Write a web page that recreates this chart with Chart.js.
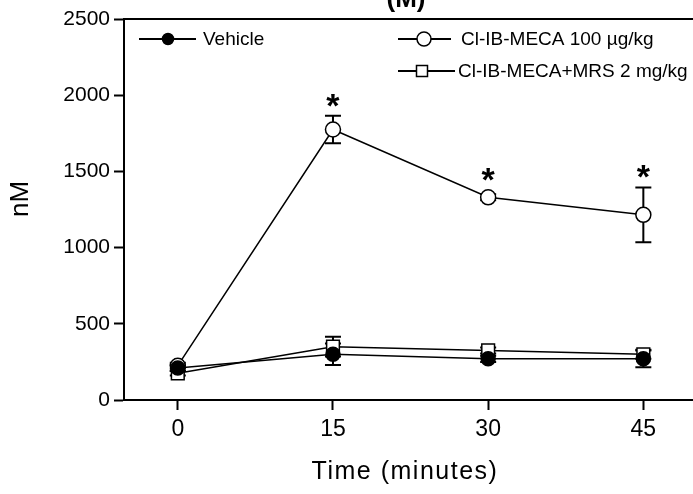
<!DOCTYPE html>
<html>
<head>
<meta charset="utf-8">
<script src="https://cdn.jsdelivr.net/npm/chart.js@4.4.1/dist/chart.umd.min.js"></script>
<style>
  html, body { margin: 0; background: #fff; overflow: hidden; }
  #wrap { width: 693px; height: 494px; position: relative; }
  canvas { display: block; }
</style>
</head>
<body>
<div id="wrap"><canvas id="js--chart--a"></canvas></div>
<script>
const times = [0, 15, 30, 45];
const xTicks = [0, 15, 30, 45];
const yTicks = [0, 500, 1000, 1500, 2000, 2500];
const seriesLabels = ['Vehicle', 'Cl-IB-MECA 100 µg/kg', 'Cl-IB-MECA+MRS 2 mg/kg'];

const vehicle = [210, 300, 270, 270];
const vehicleErr = [20, 70, 20, 55];
const meca = [225, 1775, 1330, 1215];
const mecaErr = [20, 90, 20, 180];
const mecaMrs = [175, 350, 325, 300];
const mecaMrsErr = [15, 65, 20, 30];
const mecaStars = ['', '*', '*', '*'];

const FONT = '"Liberation Sans", Arial, sans-serif';

function toPoints(values) {
  return values.map((v, i) => ({ x: times[i], y: v }));
}

// legend layout, relative to the chart area (left, top)
const legendSlots = [
  { lineFrom: 15, lineTo: 72, marker: 44, text: 79, row: 20, size: 5.5 },
  { lineFrom: 274, lineTo: 327, marker: 300, text: 337, row: 20, size: 7 },
  { lineFrom: 274, lineTo: 331, marker: 298, text: 334, row: 52, size: 5.5 }
];

function drawMarker(ctx, style, x, y, r, fill) {
  ctx.beginPath();
  if (style === 'rect') {
    ctx.rect(x - r, y - r, 2 * r, 2 * r);
  } else {
    ctx.arc(x, y, r, 0, Math.PI * 2);
  }
  ctx.fillStyle = fill;
  ctx.fill();
  ctx.stroke();
}

const extras = {
  id: 'extras',
  beforeDatasetsDraw(chart) {
    // error bars go under the markers
    const { ctx, scales: { x, y } } = chart;
    ctx.save();
    ctx.strokeStyle = '#000';
    ctx.lineWidth = 2;
    chart.data.datasets.forEach(ds => {
      ds.errors.forEach((e, i) => {
        if (!e) return;
        const px = x.getPixelForValue(times[i]);
        const top = y.getPixelForValue(ds.values[i] + e);
        const bot = y.getPixelForValue(ds.values[i] - e);
        ctx.beginPath();
        ctx.moveTo(px, top); ctx.lineTo(px, bot);
        ctx.moveTo(px - 8, top); ctx.lineTo(px + 8, top);
        ctx.moveTo(px - 8, bot); ctx.lineTo(px + 8, bot);
        ctx.stroke();
      });
    });
    ctx.restore();
  },
  afterDraw(chart) {
    const { ctx, chartArea, scales: { x, y } } = chart;
    ctx.save();

    // top frame line
    ctx.strokeStyle = '#000';
    ctx.lineWidth = 2;
    ctx.beginPath();
    ctx.moveTo(chartArea.left, chartArea.top);
    ctx.lineTo(chartArea.right, chartArea.top);
    ctx.stroke();

    // legend
    ctx.font = '19px ' + FONT;
    ctx.textBaseline = 'middle';
    ctx.textAlign = 'left';
    chart.data.datasets.forEach((ds, i) => {
      const slot = legendSlots[i];
      const ly = chartArea.top + slot.row;
      ctx.strokeStyle = '#000';
      ctx.lineWidth = 2;
      ctx.beginPath();
      ctx.moveTo(chartArea.left + slot.lineFrom, ly);
      ctx.lineTo(chartArea.left + slot.lineTo, ly);
      ctx.stroke();
      ctx.lineWidth = 1.5;
      drawMarker(ctx, ds.pointStyle, chartArea.left + slot.marker, ly, slot.size, ds.pointBackgroundColor);
      ctx.fillStyle = '#000';
      ctx.fillText(ds.label, chartArea.left + slot.text, ly + 1);
    });

    // significance stars above the Cl-IB-MECA series
    ctx.font = 'bold 34px ' + FONT;
    ctx.textAlign = 'center';
    ctx.textBaseline = 'alphabetic';
    mecaStars.forEach((s, i) => {
      if (!s) return;
      const px = x.getPixelForValue(times[i]);
      const top = Math.min(y.getPixelForValue(meca[i] + mecaErr[i]), y.getPixelForValue(meca[i]) - 7.5);
      ctx.fillText(s, px, top + 1);
    });

    // axis titles
    ctx.fillStyle = '#000';
    ctx.font = '25px ' + FONT;
    ctx.letterSpacing = '1.5px';
    ctx.textAlign = 'center';
    ctx.fillText('Time (minutes)', 405, 479);

    ctx.save();
    ctx.translate(28, 199);
    ctx.rotate(-Math.PI / 2);
    ctx.font = '26px ' + FONT;
    ctx.letterSpacing = '0px';
    ctx.textBaseline = 'alphabetic';
    ctx.fillText('nM', 0, 0);
    ctx.restore();

    // panel label, cut off by the top edge
    ctx.font = 'bold 26px ' + FONT;
    ctx.letterSpacing = '0px';
    ctx.fillText('(M)', 406, 7);

    ctx.restore();
  }
};

const ctx = document.getElementById('js--chart--a');

new Chart(ctx, {
  type: 'line',
  data: {
    datasets: [
      {
        label: seriesLabels[0],
        data: toPoints(vehicle),
        values: vehicle,
        errors: vehicleErr,
        borderColor: '#000',
        borderWidth: 1.5,
        pointStyle: 'circle',
        pointRadius: 7,
        pointBorderWidth: 1.5,
        pointBorderColor: '#000',
        pointBackgroundColor: '#000',
        order: 0
      },
      {
        label: seriesLabels[1],
        data: toPoints(meca),
        values: meca,
        errors: mecaErr,
        borderColor: '#000',
        borderWidth: 1.5,
        pointStyle: 'circle',
        pointRadius: 7.5,
        pointBorderWidth: 1.5,
        pointBorderColor: '#000',
        pointBackgroundColor: '#fff',
        order: 2
      },
      {
        label: seriesLabels[2],
        data: toPoints(mecaMrs),
        values: mecaMrs,
        errors: mecaMrsErr,
        borderColor: '#000',
        borderWidth: 1.5,
        pointStyle: 'rect',
        pointRadius: 9,
        pointBorderWidth: 1.5,
        pointBorderColor: '#000',
        pointBackgroundColor: '#fff',
        order: 1
      }
    ]
  },
  options: {
    responsive: true,
    maintainAspectRatio: false,
    animation: false,
    layout: { autoPadding: false, padding: { top: 19, right: 0, bottom: 0, left: 0 } },
    plugins: {
      legend: { display: false },
      tooltip: { enabled: false }
    },
    scales: {
      x: {
        type: 'linear',
        min: -5.2,
        max: 49.8,
        afterBuildTicks: scale => { scale.ticks = xTicks.map(v => ({ value: v })); },
        afterFit: scale => { scale.height = 94; },
        grid: { drawOnChartArea: false, tickLength: 10, tickWidth: 2, tickColor: '#000' },
        border: { color: '#000', width: 2 },
        ticks: { color: '#000', font: { family: FONT, size: 23 }, padding: 6, autoSkip: false, maxRotation: 0 }
      },
      y: {
        min: 0,
        max: 2500,
        afterBuildTicks: scale => { scale.ticks = yTicks.map(v => ({ value: v })); },
        afterFit: scale => { scale.width = 124; },
        grid: { drawOnChartArea: false, tickLength: 10, tickWidth: 2, tickColor: '#000' },
        border: { color: '#000', width: 2 },
        ticks: { color: '#000', font: { family: FONT, size: 21 }, padding: 4, callback: v => String(v) }
      }
    }
  },
  plugins: [extras]
});
</script>
</body>
</html>
